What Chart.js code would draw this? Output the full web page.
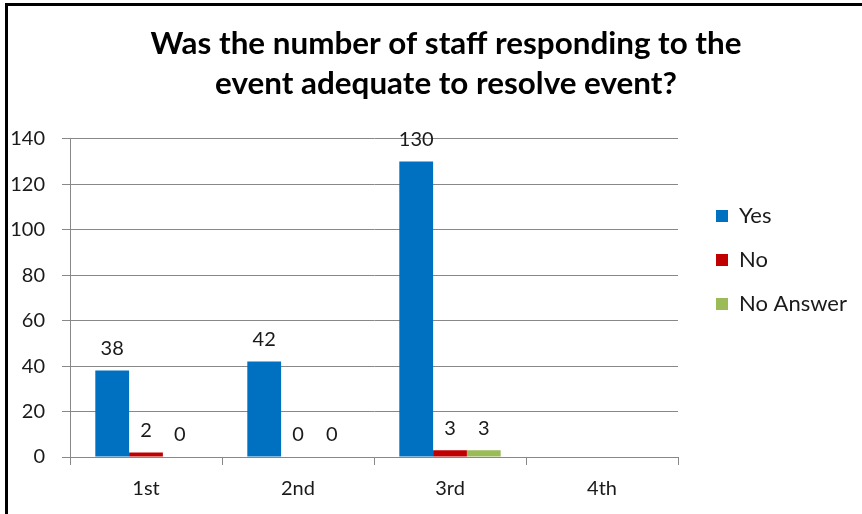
<!DOCTYPE html>
<html>
<head>
<meta charset="utf-8">
<script src="https://cdn.jsdelivr.net/npm/chart.js@4/dist/chart.umd.min.js"></script>
<style>
  html, body { margin: 0; padding: 0; background: #fff; overflow: hidden; width: 862px; height: 514px; }
  #frame { position: absolute; z-index: 2; left: 5px; top: 3px; width: 900px; height: 600px;
           border-left: 3px solid #000; border-top: 3px solid #000; }
  /* canvas runs past both page edges so the title centres over the full chart frame */
  #wrap { position: absolute; left: -200px; top: 6px; width: 1292px; height: 508px; }
</style>
</head>
<body>
<div id="frame"></div>
<div id="wrap"><canvas id="chart" width="1292" height="508"></canvas></div>
<script>
const categories = ['1st', '2nd', '3rd', '4th'];
const yesValues = [38, 42, 130, null];
const noValues = [2, 0, 3, null];
const noAnswerValues = [0, 0, 3, null];
const titleLines = ['Was the number of staff responding to the', 'event adequate to resolve event?'];

const FONT = 'Lato, "Open Sans", sans-serif';
const CANVAS_LEFT = -200;

// writes each bar's value just above it
const valueLabels = {
  id: 'valueLabels',
  afterDatasetsDraw(chart) {
    const ctx = chart.ctx;
    ctx.save();
    ctx.font = '20px ' + FONT;
    ctx.fillStyle = '#1a1a1a';
    ctx.textAlign = 'center';
    ctx.textBaseline = 'middle';
    chart.data.datasets.forEach((ds, i) => {
      chart.getDatasetMeta(i).data.forEach((bar, j) => {
        const v = ds.data[j];
        if (v === null || v === undefined) return;
        ctx.fillText(String(v), bar.x, bar.y - 22);
      });
    });
    ctx.restore();
  }
};

new Chart(document.getElementById('chart'), {
  type: 'bar',
  data: {
    labels: categories,
    datasets: [
      { label: 'Yes', data: yesValues, backgroundColor: '#0070C0' },
      { label: 'No', data: noValues, backgroundColor: '#C00000' },
      { label: 'No Answer', data: noAnswerValues, backgroundColor: '#9BBB59' }
    ]
  },
  options: {
    responsive: false,
    animation: false,
    categoryPercentage: 0.667,
    barPercentage: 1,
    layout: { padding: { left: 0, top: 14, bottom: 14, right: 0 } },
    plugins: {
      title: {
        display: true,
        text: titleLines,
        color: '#000',
        font: { family: FONT, size: 31.4, weight: 'bold', lineHeight: 1.27 },
        padding: { top: 4, bottom: 35 }
      },
      legend: {
        position: 'right',
        labels: {
          boxWidth: 12,
          boxHeight: 12,
          padding: 22,
          color: '#1a1a1a',
          font: { family: FONT, size: 22 }
        }
      },
      tooltip: { enabled: false }
    },
    scales: {
      x: {
        grid: { drawOnChartArea: false, color: '#888', tickLength: 8 },
        border: { color: '#888' },
        ticks: { color: '#1a1a1a', padding: 12, font: { family: FONT, size: 20 } },
        afterFit(scale) { scale.height = 43; }
      },
      y: {
        min: 0,
        max: 140,
        grid: { color: '#888', tickLength: 8 },
        border: { color: '#888' },
        ticks: { stepSize: 20, color: '#1a1a1a', padding: 17, font: { family: FONT, size: 20 } },
        afterFit(scale) { scale.width = 70 - CANVAS_LEFT; }
      },
      // space between the plot and the legend
      gap: {
        position: 'right',
        display: true,
        grid: { display: false },
        border: { display: false },
        ticks: { display: false },
        afterFit(scale) { scale.width = 16; }
      },
      // empty space right of the legend
      tail: {
        position: 'right',
        weight: 2000,
        display: true,
        grid: { display: false },
        border: { display: false },
        ticks: { display: false },
        afterFit(scale) {
          const legendRight = 694 + scale.chart.legend.width;
          scale.width = Math.max(0, scale.chart.width + CANVAS_LEFT - legendRight);
        }
      }
    }
  },
  plugins: [valueLabels]
});
</script>
</body>
</html>
